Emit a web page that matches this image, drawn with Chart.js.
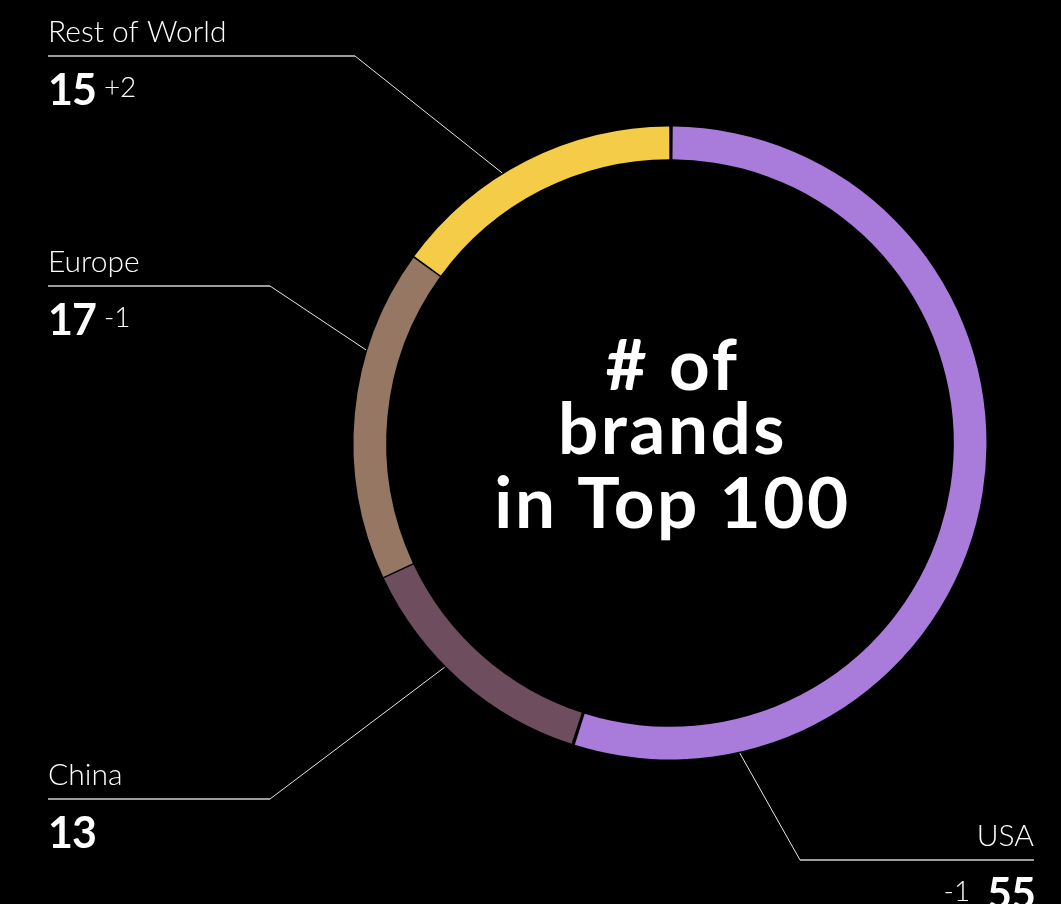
<!DOCTYPE html>
<html>
<head>
<meta charset="utf-8">
<script src="https://cdn.jsdelivr.net/npm/chart.js@4"></script>
<style>
  html, body { margin: 0; padding: 0; background: #000; }
  #wrap { width: 1061px; height: 904px; position: relative; }
</style>
</head>
<body>
<div id="wrap"><canvas id="c" width="1061" height="904"></canvas></div>
<script>
// Brands in the Top 100, by region, and the change since the previous edition
const regions = ['USA', 'China', 'Europe', 'Rest of World'];
const brandCounts = [55, 13, 17, 15];
const changes = ['-1', '', '-1', '+2'];
const centerTitle = ['# of', 'brands', 'in Top 100'];

const ringColors = ['#A97BDB', '#6E4E5E', '#957763', '#F4CC47'];

// Label placement: where along each arc the leader starts, the elbow point,
// the end of the underline and the text alignment.
const labelLayout = [
  { along: 0.845, elbow: [800, 860], end: 1034, align: 'right' },
  { along: 0.58,  elbow: [270, 799], end: 48,   align: 'left' },
  { along: 0.69,  elbow: [270, 286], end: 48,   align: 'left' },
  { along: 0.41,  elbow: [355, 56],  end: 48,   align: 'left' }
];

const LIGHT = '300 30px Lato, "Open Sans", sans-serif';
const SMALL = '300 28px Lato, "Open Sans", sans-serif';
const BOLD = '700 43px Lato, "Open Sans", sans-serif';

const calloutPlugin = {
  id: 'callouts',
  afterDatasetsDraw(chart) {
    const ctx = chart.ctx;
    const meta = chart.getDatasetMeta(0);
    ctx.save();
    meta.data.forEach((arc, i) => {
      const p = arc.getProps(['x', 'y', 'startAngle', 'endAngle', 'outerRadius'], true);
      const lay = labelLayout[i];
      const a = p.startAngle + (p.endAngle - p.startAngle) * lay.along;
      const r = p.outerRadius + 3;
      const ax = p.x + Math.cos(a) * r;
      const ay = p.y + Math.sin(a) * r;
      const [ex, ey] = lay.elbow;

      // leader line from the ring to the elbow
      ctx.strokeStyle = '#e6e6e6';
      ctx.lineWidth = 1;
      ctx.beginPath();
      ctx.moveTo(ax, ay);
      ctx.lineTo(ex, ey);
      ctx.stroke();
      // underline
      ctx.strokeStyle = '#d0d0d0';
      ctx.lineWidth = 1.5;
      ctx.beginPath();
      ctx.moveTo(ex, ey);
      ctx.lineTo(lay.end, ey);
      ctx.stroke();

      // region name above the underline
      ctx.fillStyle = '#ffffff';
      ctx.textBaseline = 'alphabetic';
      ctx.font = LIGHT;
      ctx.textAlign = lay.align;
      ctx.fillText(regions[i], lay.end, ey - 14);

      // count (bold) and change (light) below the underline
      const numY = ey + 49;
      const count = String(brandCounts[i]);
      ctx.font = BOLD;
      ctx.letterSpacing = '-1px';
      const cw = ctx.measureText(count).width;
      if (lay.align === 'left') {
        ctx.textAlign = 'left';
        ctx.fillText(count, lay.end, numY);
        ctx.letterSpacing = '0px';
        if (changes[i]) {
          ctx.font = SMALL;
          ctx.fillText(changes[i], lay.end + cw + 8, numY - 8);
        }
      } else {
        ctx.textAlign = 'right';
        ctx.fillText(count, lay.end + 1, numY);
        ctx.letterSpacing = '0px';
        if (changes[i]) {
          ctx.font = SMALL;
          ctx.fillText(changes[i], lay.end - cw - 16, numY - 8);
        }
      }
    });

    // title in the middle of the ring
    const c = meta.data[0];
    ctx.fillStyle = '#ffffff';
    ctx.textAlign = 'center';
    ctx.font = '700 71px Lato, "Open Sans", sans-serif';
    ctx.letterSpacing = '2.5px';
    const offsets = [-53, 11, 85];
    centerTitle.forEach((line, k) => ctx.fillText(line, c.x + 2.5, c.y + offsets[k]));
    ctx.letterSpacing = '0px';
    ctx.restore();
  }
};

new Chart(document.getElementById('c'), {
  type: 'doughnut',
  data: {
    labels: regions,
    datasets: [{
      data: brandCounts,
      backgroundColor: ringColors,
      borderWidth: 0,
      spacing: 3
    }]
  },
  options: {
    responsive: false,
    animation: false,
    radius: 315,
    cutout: 281,
    rotation: 0,
    layout: { padding: { left: 355, right: 76, top: 128, bottom: 146 } },
    plugins: {
      legend: { display: false },
      tooltip: { enabled: false }
    },
    events: []
  },
  plugins: [
    { id: 'bg', beforeDraw(chart) { const x = chart.ctx; x.save(); x.fillStyle = '#000'; x.fillRect(0, 0, chart.width, chart.height); x.restore(); } },
    calloutPlugin
  ]
});
</script>
</body>
</html>
